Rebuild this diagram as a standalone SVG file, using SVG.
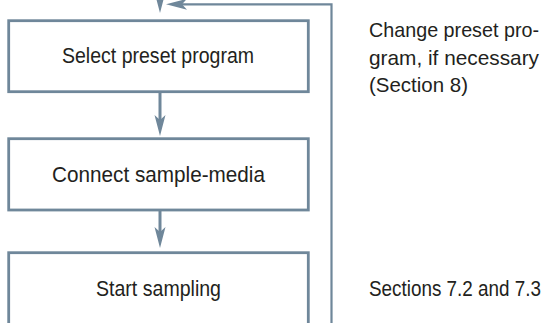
<svg xmlns="http://www.w3.org/2000/svg" width="551" height="323" viewBox="0 0 551 323">
  <style>
    .box { fill: #ffffff; stroke: #6f879a; stroke-width: 2.8; }
    .lbl { font-family: "Liberation Sans", Arial, sans-serif; font-size: 22px; fill: #231f20; }
    .note { font-family: "Liberation Sans", Arial, sans-serif; font-size: 21px; fill: #231f20; }
    .note-s { font-family: "Liberation Sans", Arial, sans-serif; font-size: 19px; fill: #231f20; }
    .flow { fill: none; stroke: #6f879a; stroke-width: 3; }
    .loop { fill: none; stroke: #6f879a; stroke-width: 2.2; }
    .head { fill: #6f879a; }
  </style>
  <defs>
    <!-- barbed arrowhead, tip at origin pointing +x -->
    <path id="ah" d="M0,0 L-21,-5.5 L-16,0 L-21,5.5 Z"/>
  </defs>
  <rect width="551" height="323" fill="#ffffff"/>

  <g id="connectors">
    <!-- entry into first step -->
    <line class="flow" x1="160" y1="0" x2="160" y2="4"/>
    <use href="#ah" class="head" transform="translate(160,13) rotate(90)"/>
    <!-- step 1 to step 2 -->
    <line class="flow" x1="160" y1="92" x2="160" y2="122"/>
    <use href="#ah" class="head" transform="translate(160,136) rotate(90)"/>
    <!-- step 2 to step 3 -->
    <line class="flow" x1="160" y1="211" x2="160" y2="234"/>
    <use href="#ah" class="head" transform="translate(160,248) rotate(90)"/>
    <!-- return loop -->
    <polyline class="loop" points="331.5,323 331.5,4.3 180,4.3"/>
    <use href="#ah" class="head" transform="translate(166,4.3) rotate(180)"/>
  </g>

  <g id="step-select">
    <rect class="box" x="8.7" y="20.7" width="299.6" height="71"/>
    <text class="lbl" x="62" y="62.7" textLength="192" lengthAdjust="spacingAndGlyphs">Select preset program</text>
  </g>

  <g id="step-connect">
    <rect class="box" x="8.7" y="138.7" width="299.6" height="71.3"/>
    <text class="lbl" x="52" y="181.7" textLength="213" lengthAdjust="spacingAndGlyphs">Connect sample-media</text>
  </g>

  <g id="step-start">
    <rect class="box" x="8.7" y="252.7" width="299.6" height="100"/>
    <text class="lbl" x="96" y="295.5" textLength="125" lengthAdjust="spacingAndGlyphs">Start sampling</text>
  </g>

  <g id="note-change">
    <text class="note" x="369" y="36.5" textLength="170" lengthAdjust="spacingAndGlyphs">Change preset pro-</text>
    <text class="note" x="369" y="64.5" textLength="170" lengthAdjust="spacingAndGlyphs">gram, if necessary</text>
    <text class="note" x="369" y="92" textLength="99" lengthAdjust="spacingAndGlyphs">(Section 8)</text>
  </g>

  <!-- smaller size, stretched vertically about its baseline -->
  <g id="note-sections" transform="matrix(1,0,0,1.15,0,-44.4)">
    <text class="note-s" x="369" y="296" textLength="172" lengthAdjust="spacingAndGlyphs">Sections 7.2 and 7.3</text>
  </g>
</svg>
